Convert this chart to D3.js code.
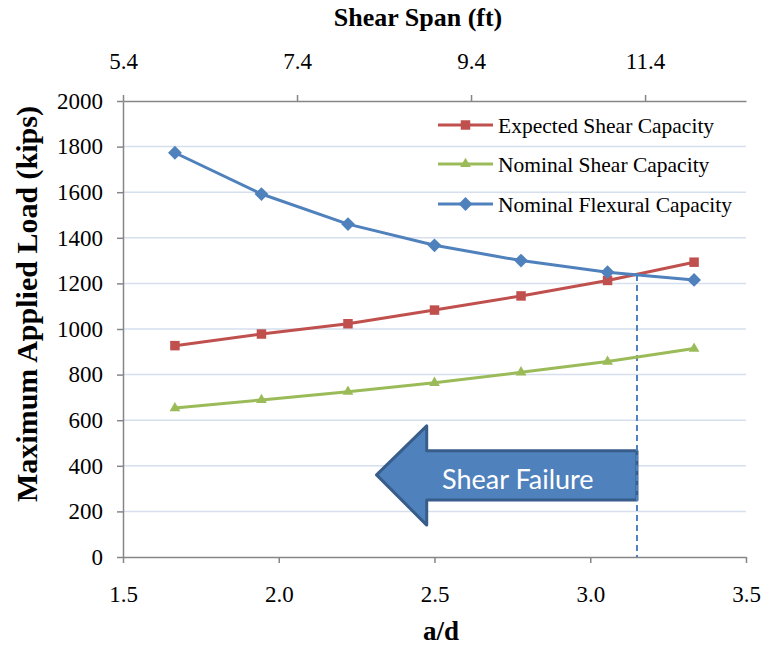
<!DOCTYPE html>
<html>
<head>
<meta charset="utf-8">
<script src="https://cdn.jsdelivr.net/npm/d3@7"></script>
<style>
  body { margin: 0; background: #fff; }
  svg { display: block; }
</style>
</head>
<body>
<svg id="chart" width="766" height="649"></svg>
<script>
// a/d ratios tested
let ratios = [5 / 3, 35 / 18, 20 / 9, 2.5, 25 / 9, 55 / 18, 10 / 3];

let expectedShear = [927, 978, 1023, 1083, 1145, 1213, 1293];
let nominalShear = [653, 689, 725, 764, 810, 857, 914];
let nominalFlexural = [1773, 1592, 1460, 1367, 1300, 1249, 1215];

let seriesNames = ["Expected Shear Capacity", "Nominal Shear Capacity", "Nominal Flexural Capacity"];
let seriesColors = ["#C0504D", "#9BBB59", "#4F81BD"];
let seriesMarkers = ["square", "triangle", "diamond"];

let bottomTicks = [1.5, 2.0, 2.5, 3.0, 3.5];
let topTicks = [5.4, 7.4, 9.4, 11.4];
let yTicks = [0, 200, 400, 600, 800, 1000, 1200, 1400, 1600, 1800, 2000];

// shear failure boundary and arrow (in a/d and kips)
let failureRatio = 3.15;
let failureLoad = 1237;
let arrowTip = [2.314, 360];
let arrowHeadX = 2.475;
let arrowHeadSpan = [140, 575];
let arrowBodySpan = [250, 466];

let svg = d3.select("#chart");
let plotLeft = 123, plotRight = 746, plotTop = 101, plotBottom = 557;

let x = d3.scaleLinear().domain([1.5, 3.5]).range([plotLeft, plotRight]);
let xTop = d3.scaleLinear().domain([5.4, 12.56]).range([plotLeft, plotRight]);
let y = d3.scaleLinear().domain([0, 2000]).range([plotBottom, plotTop]);

let serif = "'Liberation Serif', 'Times New Roman', serif";
let axisGray = "#868686";

// gridlines
svg.append("g")
  .selectAll("line")
  .data(yTicks.filter(function(d) { return d > 0 && d < 2000; }))
  .enter()
  .append("line")
  .attr("x1", plotLeft)
  .attr("x2", plotRight)
  .attr("y1", function(d) { return y(d); })
  .attr("y2", function(d) { return y(d); })
  .style("stroke", "#D5DFEE")
  .style("stroke-width", 1.5);

function styleAxis(g, size) {
  g.selectAll("path").style("stroke", axisGray).style("stroke-width", 1.5);
  g.selectAll(".tick line").style("stroke", axisGray).style("stroke-width", 1.5);
  g.selectAll("text")
    .style("font-family", serif)
    .style("font-size", size + "px")
    .style("fill", "#000");
}

let yAxis = svg.append("g")
  .attr("transform", "translate(" + plotLeft + ",0)")
  .call(d3.axisLeft(y).tickValues(yTicks).tickSize(6).tickSizeOuter(0).tickPadding(14).tickFormat(d3.format("d")));
styleAxis(yAxis, 23);

let xAxis = svg.append("g")
  .attr("transform", "translate(0," + plotBottom + ")")
  .call(d3.axisBottom(x).tickValues(bottomTicks).tickSize(6).tickSizeOuter(0).tickPadding(23).tickFormat(d3.format(".1f")));
styleAxis(xAxis, 23);

let topAxis = svg.append("g")
  .attr("transform", "translate(0," + plotTop + ")")
  .call(d3.axisTop(xTop).tickValues(topTicks).tickSize(6).tickSizeOuter(0).tickPadding(26).tickFormat(d3.format(".1f")));
styleAxis(topAxis, 23);

// axis titles
svg.append("text")
  .attr("x", 418)
  .attr("y", 26)
  .attr("text-anchor", "middle")
  .style("font-family", serif)
  .style("font-weight", "bold")
  .style("font-size", "26px")
  .text("Shear Span (ft)");

svg.append("text")
  .attr("x", 441)
  .attr("y", 640)
  .attr("text-anchor", "middle")
  .style("font-family", serif)
  .style("font-weight", "bold")
  .style("font-size", "27px")
  .text("a/d");

svg.append("text")
  .attr("transform", "translate(37,304) rotate(-90)")
  .attr("text-anchor", "middle")
  .style("font-family", serif)
  .style("font-weight", "bold")
  .style("font-size", "30px")
  .text("Maximum Applied Load (kips)");

// shear failure arrow
let arrowPts = [
  [arrowTip[0], arrowTip[1]],
  [arrowHeadX, arrowHeadSpan[1]],
  [arrowHeadX, arrowBodySpan[1]],
  [failureRatio, arrowBodySpan[1]],
  [failureRatio, arrowBodySpan[0]],
  [arrowHeadX, arrowBodySpan[0]],
  [arrowHeadX, arrowHeadSpan[0]]
];
svg.append("path")
  .attr("d", d3.line().x(function(d) { return x(d[0]); }).y(function(d) { return y(d[1]); })(arrowPts) + "Z")
  .style("fill", "#4F81BD")
  .style("stroke", "#385D8A")
  .style("stroke-width", 3)
  .style("stroke-linejoin", "round");

svg.append("text")
  .attr("x", (x(arrowHeadX) + x(failureRatio)) / 2 - 14)
  .attr("y", y((arrowBodySpan[0] + arrowBodySpan[1]) / 2) + 14)
  .attr("text-anchor", "middle")
  .style("font-family", "Lato, 'Open Sans', sans-serif")
  .style("font-size", "27px")
  .style("fill", "#fff")
  .text("Shear Failure");

// dashed boundary line
svg.append("line")
  .attr("x1", x(failureRatio))
  .attr("x2", x(failureRatio))
  .attr("y1", y(failureLoad))
  .attr("y2", plotBottom)
  .style("stroke", "#4F81BD")
  .style("stroke-width", 2)
  .style("stroke-dasharray", "6,4");

// series
let seriesData = [expectedShear, nominalShear, nominalFlexural];

let lineFunction = d3.line()
  .x(function(d, i) { return x(ratios[i]); })
  .y(function(d) { return y(d); })
  .curve(d3.curveLinear);

let symbolFor = {
  square: d3.symbol().type(d3.symbolSquare).size(90),
  triangle: d3.symbol().type(d3.symbolTriangle).size(50),
  diamond: d3.symbol().type(d3.symbolSquare).size(95)
};
let markerTurn = { square: 0, triangle: 0, diamond: 45 };

seriesData.forEach(function(values, k) {
  svg.append("path")
    .attr("d", lineFunction(values))
    .style("fill", "none")
    .style("stroke", seriesColors[k])
    .style("stroke-width", 3)
    .style("stroke-linejoin", "round");

  svg.append("g")
    .selectAll("path")
    .data(values)
    .enter()
    .append("path")
    .attr("transform", function(d, i) {
      return "translate(" + x(ratios[i]) + "," + y(d) + ") rotate(" + markerTurn[seriesMarkers[k]] + ")";
    })
    .attr("d", symbolFor[seriesMarkers[k]]())
    .style("fill", seriesColors[k]);
});

// legend
let legend = svg.append("g").attr("transform", "translate(438,0)");
let legendRows = [125, 164, 204];
seriesNames.forEach(function(name, k) {
  let row = legend.append("g").attr("transform", "translate(0," + legendRows[k] + ")");
  row.append("line")
    .attr("x1", 0)
    .attr("x2", 55)
    .style("stroke", seriesColors[k])
    .style("stroke-width", 3);
  row.append("path")
    .attr("transform", "translate(27.5,0) rotate(" + markerTurn[seriesMarkers[k]] + ")")
    .attr("d", symbolFor[seriesMarkers[k]]())
    .style("fill", seriesColors[k]);
  row.append("text")
    .attr("x", 60)
    .attr("dy", "0.35em")
    .style("font-family", serif)
    .style("font-size", "21.5px")
    .text(name);
});
</script>
</body>
</html>
